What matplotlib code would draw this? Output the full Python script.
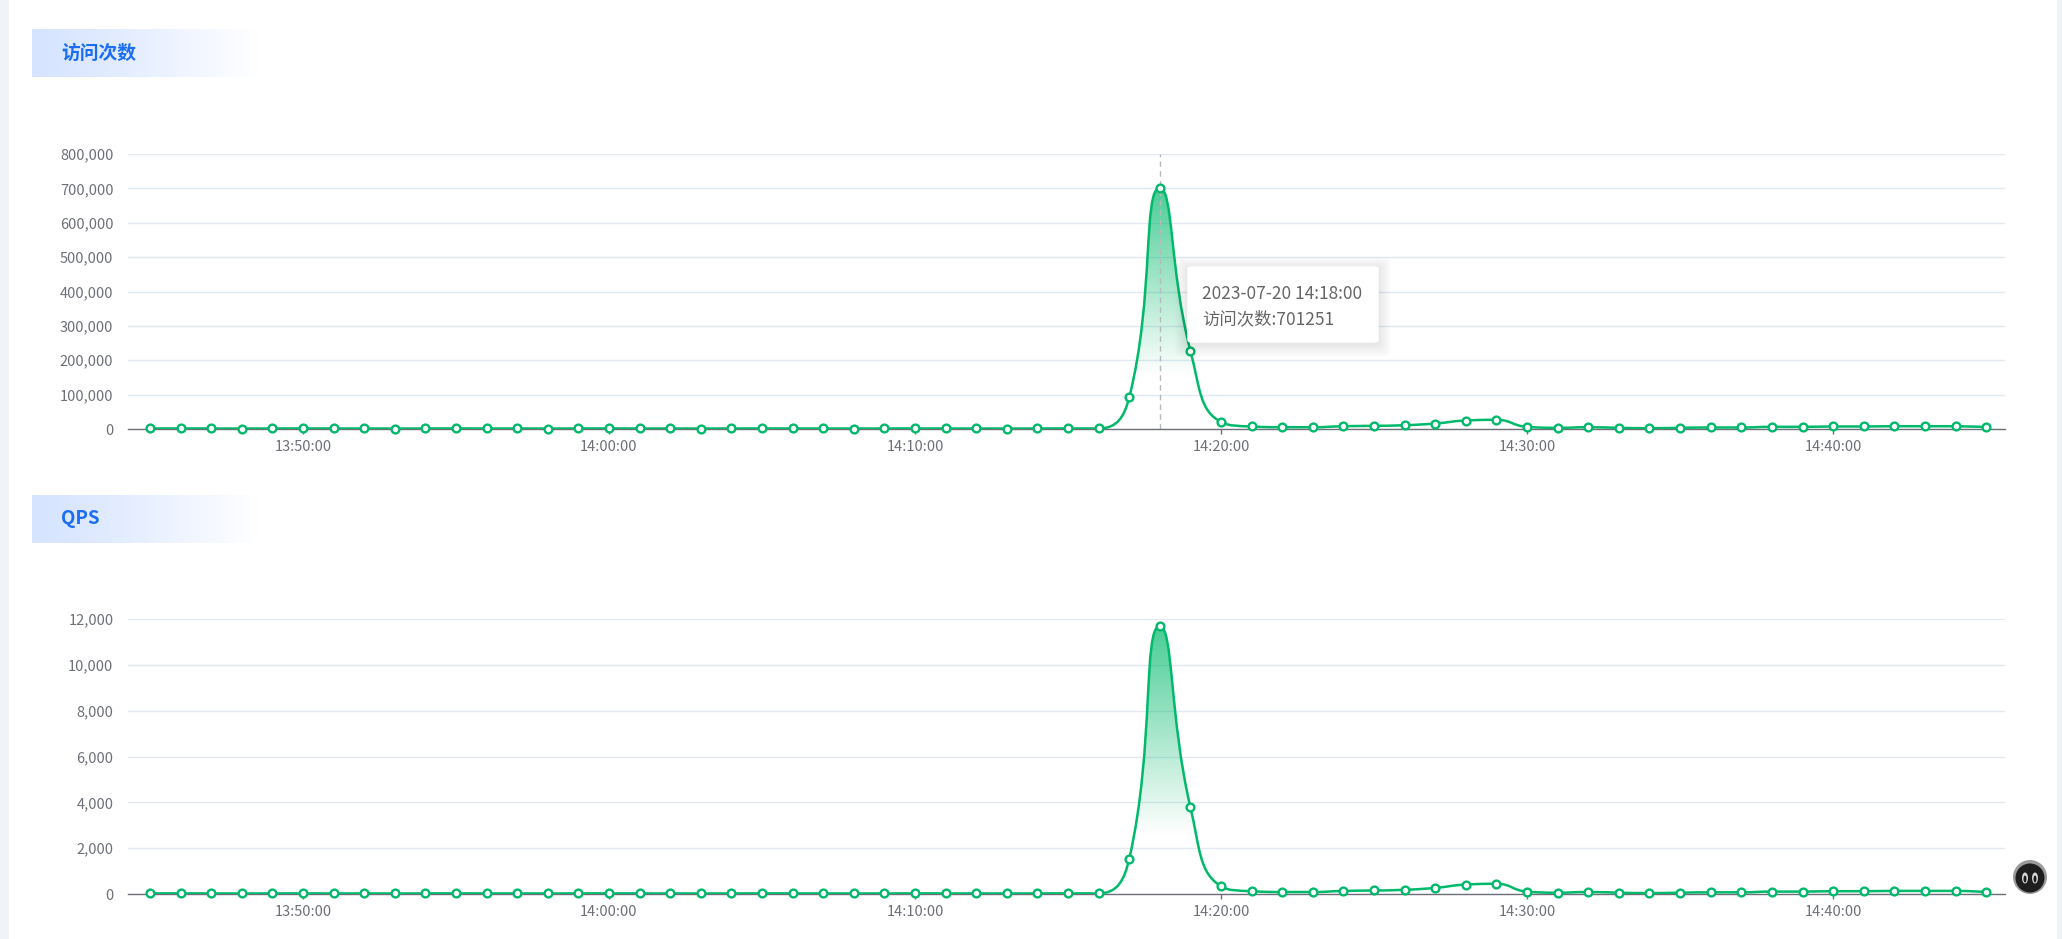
import numpy as np
import pandas as pd
import matplotlib
matplotlib.use('Agg')
import matplotlib.pyplot as plt
import matplotlib.dates as mdates
from matplotlib.path import Path
from matplotlib.patches import PathPatch, FancyBboxPatch, Rectangle, Circle, Ellipse
from matplotlib.ticker import FuncFormatter

plt.rcParams['font.family'] = ['Noto Sans CJK SC', 'DejaVu Sans']

# ---------------- data ----------------
times = pd.date_range('2023-07-20 13:45:00', '2023-07-20 14:45:00', freq='1min')

visits = [1500, 1600, 1500, 1400, 1500, 1600, 1500, 1500, 1400, 1500,
          1600, 1500, 1500, 1400, 1500, 1600, 1500, 1500, 1400, 1500,
          1600, 1500, 1500, 1400, 1500, 1600, 1500, 1500, 1400, 1500,
          1600, 1500,
          92000, 701251, 227000, 20500, 7300, 5200, 5200, 8100, 9200, 11000,
          16000, 24700, 26700, 6300, 3400, 5200, 3400, 2400, 3400, 4400,
          4400, 6300, 6300, 7300, 7300, 8100, 8100, 8100, 5200]

qps = [25, 27, 25, 23, 25, 27, 25, 25, 23, 25,
       27, 25, 25, 23, 25, 27, 25, 25, 23, 25,
       27, 25, 25, 23, 25, 27, 25, 25, 23, 25,
       27, 25,
       1530, 11688, 3780, 340, 122, 87, 87, 135, 153, 183,
       267, 412, 445, 105, 57, 87, 57, 40, 57, 73,
       73, 105, 105, 122, 122, 135, 135, 135, 87]

panel_titles = ['访问次数', 'QPS']
series_names = ['访问次数', 'QPS']
y_ticks = [list(range(0, 800001, 100000)), list(range(0, 12001, 2000))]
tooltip_lines = ['2023-07-20 14:18:00', '访问次数:701251']
hover_time = pd.Timestamp('2023-07-20 14:18:00')

# ---------------- style ----------------
W, H = 2062, 939
GREEN = '#00b96b'
AXIS_C = '#6e7079'
GRID_C = '#e3e8f2'
TITLE_C = '#1b6ef3'

fig = plt.figure(figsize=(W / 100, H / 100), dpi=100)
fig.patch.set_facecolor('white')


def fx(px):
    return px / W


def fy(py):
    return 1 - py / H


# page side strips
fig.add_artist(Rectangle((0, 0), fx(9), 1, transform=fig.transFigure,
                         facecolor='#f0f3f8', edgecolor='none'))
fig.add_artist(Rectangle((fx(2057), 0), fx(5), 1, transform=fig.transFigure,
                         facecolor='#f0f3f8', edgecolor='none'))


def title_box(top, bottom, text):
    tax = fig.add_axes([fx(32), fy(bottom), fx(270 - 32), (bottom - top) / H])
    g = np.linspace(0, 1, 256)
    c0 = np.array([214, 228, 255]) / 255.0
    c1 = np.array([255, 255, 255]) / 255.0
    t = np.clip(g / 0.95, 0, 1) ** 1.2
    img = (c0[None, :] * (1 - t[:, None]) + c1[None, :] * t[:, None])[None, :, :]
    tax.imshow(img, aspect='auto', extent=[0, 1, 0, 1])
    tax.set_axis_off()
    fig.text(fx(61), fy((top + bottom) / 2), text, ha='left', va='center',
             fontsize=13.5, fontweight='bold', color=TITLE_C)


title_box(29, 77, panel_titles[0])
title_box(495, 543, panel_titles[1])

xnum = mdates.date2num(times.to_pydatetime())
x_left = mdates.date2num(pd.Timestamp('2023-07-20 13:44:17').to_pydatetime())
x_right = mdates.date2num(pd.Timestamp('2023-07-20 14:45:37').to_pydatetime())


def smooth_path_pixels(px, py, smooth=0.5):
    """echarts-style smoothed bezier through points (pixel space)."""
    verts = [(px[0], py[0])]
    codes = [Path.MOVETO]
    cpx0, cpy0 = px[0], py[0]
    n = len(px)
    for i in range(1, n):
        x, y = px[i], py[i]
        prevX, prevY = px[i - 1], py[i - 1]
        if i == n - 1:
            cpx1, cpy1 = x, y
            ncx0, ncy0 = x, y
        else:
            nextX, nextY = px[i + 1], py[i + 1]
            vx = nextX - prevX
            vy = nextY - prevY
            dx0, dy0 = x - prevX, y - prevY
            dx1, dy1 = nextX - x, nextY - y
            lp = np.hypot(dx0, dy0)
            ln = np.hypot(dx1, dy1)
            r = ln / (ln + lp)
            ncx0 = x + vx * smooth * r
            ncy0 = y + vy * smooth * r
            ncx0 = min(ncx0, max(nextX, x)); ncy0 = min(ncy0, max(nextY, y))
            ncx0 = max(ncx0, min(nextX, x)); ncy0 = max(ncy0, min(nextY, y))
            vx = ncx0 - x; vy = ncy0 - y
            cpx1 = x - vx * lp / ln
            cpy1 = y - vy * lp / ln
            cpx1 = min(cpx1, max(prevX, x)); cpy1 = min(cpy1, max(prevY, y))
            cpx1 = max(cpx1, min(prevX, x)); cpy1 = max(cpy1, min(prevY, y))
            vx = x - cpx1; vy = y - cpy1
            ncx0 = x + vx * ln / lp
            ncy0 = y + vy * ln / lp
        verts += [(cpx0, cpy0), (cpx1, cpy1), (x, y)]
        codes += [Path.CURVE4] * 3
        cpx0, cpy0 = ncx0, ncy0
    return np.array(verts), codes


def draw_panel(rect, values, yticks, show_hover):
    ax = fig.add_axes(rect)
    ax.set_xlim(x_left, x_right)
    ax.set_ylim(0, yticks[-1])
    for s in ['top', 'right', 'left']:
        ax.spines[s].set_visible(False)
    ax.spines['bottom'].set_color(AXIS_C)
    ax.spines['bottom'].set_linewidth(1.0)
    ax.spines['bottom'].set_zorder(2)
    ax.set_yticks(yticks)
    ax.yaxis.set_major_formatter(FuncFormatter(lambda v, p: f'{int(v):,}'))
    ax.tick_params(axis='y', length=0, pad=10.5, labelsize=10.5, labelcolor=AXIS_C)
    ax.xaxis.set_major_locator(mdates.MinuteLocator(byminute=[0, 10, 20, 30, 40, 50]))
    ax.xaxis.set_major_formatter(mdates.DateFormatter('%H:%M:%S'))
    ax.tick_params(axis='x', direction='out', length=3.8, width=1.0, color=AXIS_C,
                   pad=4, labelsize=10.5, labelcolor=AXIS_C)
    ax.grid(axis='y', color=GRID_C, linewidth=1.0, zorder=0)
    ax.set_axisbelow(True)

    # smoothed path in pixel space
    fig.canvas.draw()
    pts = ax.transData.transform(np.column_stack([xnum, values]))
    verts_px, codes = smooth_path_pixels(pts[:, 0], pts[:, 1])
    verts = ax.transData.inverted().transform(verts_px)
    line_path = Path(verts, codes)

    # area
    area_verts = np.vstack([verts, [[xnum[-1], 0], [xnum[0], 0], [xnum[0], values[0]]]])
    area_codes = codes + [Path.LINETO, Path.LINETO, Path.CLOSEPOLY]
    area_patch = PathPatch(Path(area_verts, area_codes), facecolor='none',
                           edgecolor='none')
    ax.add_patch(area_patch)
    vmax = max(values)
    t = np.linspace(0, 1, 400)  # 0 at top
    alpha = np.clip(0.72 * (1 - t / 0.78), 0, 1)
    rgba = np.zeros((400, 1, 4))
    rgba[:, 0, 0] = 0 / 255
    rgba[:, 0, 1] = 185 / 255
    rgba[:, 0, 2] = 107 / 255
    rgba[:, 0, 3] = alpha
    im = ax.imshow(rgba, aspect='auto', extent=[x_left, x_right, 0, vmax],
                   origin='upper', zorder=1, interpolation='bilinear')
    im.set_clip_path(area_patch)
    ax.set_xlim(x_left, x_right)
    ax.set_ylim(0, yticks[-1])

    if show_hover:
        hx = mdates.date2num(hover_time.to_pydatetime())
        ax.plot([hx, hx], [0, yticks[-1]], color='#b8b8c0', linewidth=1.0,
                linestyle=(0, (4, 3)), zorder=2, clip_on=False)

    ax.add_patch(PathPatch(line_path, facecolor='none', edgecolor=GREEN,
                           linewidth=1.8, zorder=3, capstyle='round',
                           joinstyle='round'))
    ax.plot(xnum, values, linestyle='none', marker='o', markersize=5.6,
            markerfacecolor='white', markeredgecolor=GREEN, markeredgewidth=1.7,
            zorder=4, clip_on=False)
    return ax


ax1 = draw_panel([fx(128), fy(429), fx(2005 - 128), 275 / H], visits, y_ticks[0], True)
ax2 = draw_panel([fx(128), fy(894), fx(2005 - 128), 275 / H], qps, y_ticks[1], False)

# tooltip with soft shadow
bx0, by0, bx1, by1 = 1188, 267, 1378, 342
for i in range(8, 0, -1):
    e = i * 1.6
    fig.add_artist(FancyBboxPatch((fx(bx0 - e), fy(by1 + e + 2)),
                                  fx(bx1 - bx0 + 2 * e), (by1 - by0 + 2 * e) / H,
                                  boxstyle='round,pad=0,rounding_size=0.004',
                                  transform=fig.transFigure, facecolor='black',
                                  edgecolor='none', alpha=0.012, zorder=9))
fig.add_artist(FancyBboxPatch((fx(bx0), fy(by1)), fx(bx1 - bx0), (by1 - by0) / H,
                              boxstyle='round,pad=0,rounding_size=0.002',
                              transform=fig.transFigure, facecolor='white',
                              edgecolor='#ffffff', linewidth=1, zorder=10))
fig.text(fx(1202), fy(294), tooltip_lines[0], ha='left', va='center',
         fontsize=12.5, color='#666666', zorder=11)
fig.text(fx(1202), fy(319), tooltip_lines[1], ha='left', va='center',
         fontsize=12.5, color='#666666', zorder=11)

# small round badge at bottom right
cx, cy = 2030, 877
fig.add_artist(Circle((fx(cx), fy(cy)), 0.0001, transform=fig.transFigure))
bax = fig.add_axes([fx(cx - 20), fy(cy + 20), fx(40), 40 / H])
bax.set_xlim(-20, 20); bax.set_ylim(-20, 20); bax.set_aspect('equal')
bax.set_axis_off()
bax.add_patch(Circle((0, 0), 17, facecolor='#9a9a9a', edgecolor='none'))
bax.add_patch(Circle((0, -1), 14.5, facecolor='#1e1e1e', edgecolor='none'))
bax.add_patch(Ellipse((-5, -1), 6, 11, facecolor='#d8d8d8', edgecolor='none'))
bax.add_patch(Ellipse((5, -1), 6, 11, facecolor='#d8d8d8', edgecolor='none'))
bax.add_patch(Ellipse((-5, -2), 3, 7, facecolor='#1e1e1e', edgecolor='none'))
bax.add_patch(Ellipse((5, -2), 3, 7, facecolor='#1e1e1e', edgecolor='none'))

fig.savefig('out.png', dpi=100, facecolor='white')
